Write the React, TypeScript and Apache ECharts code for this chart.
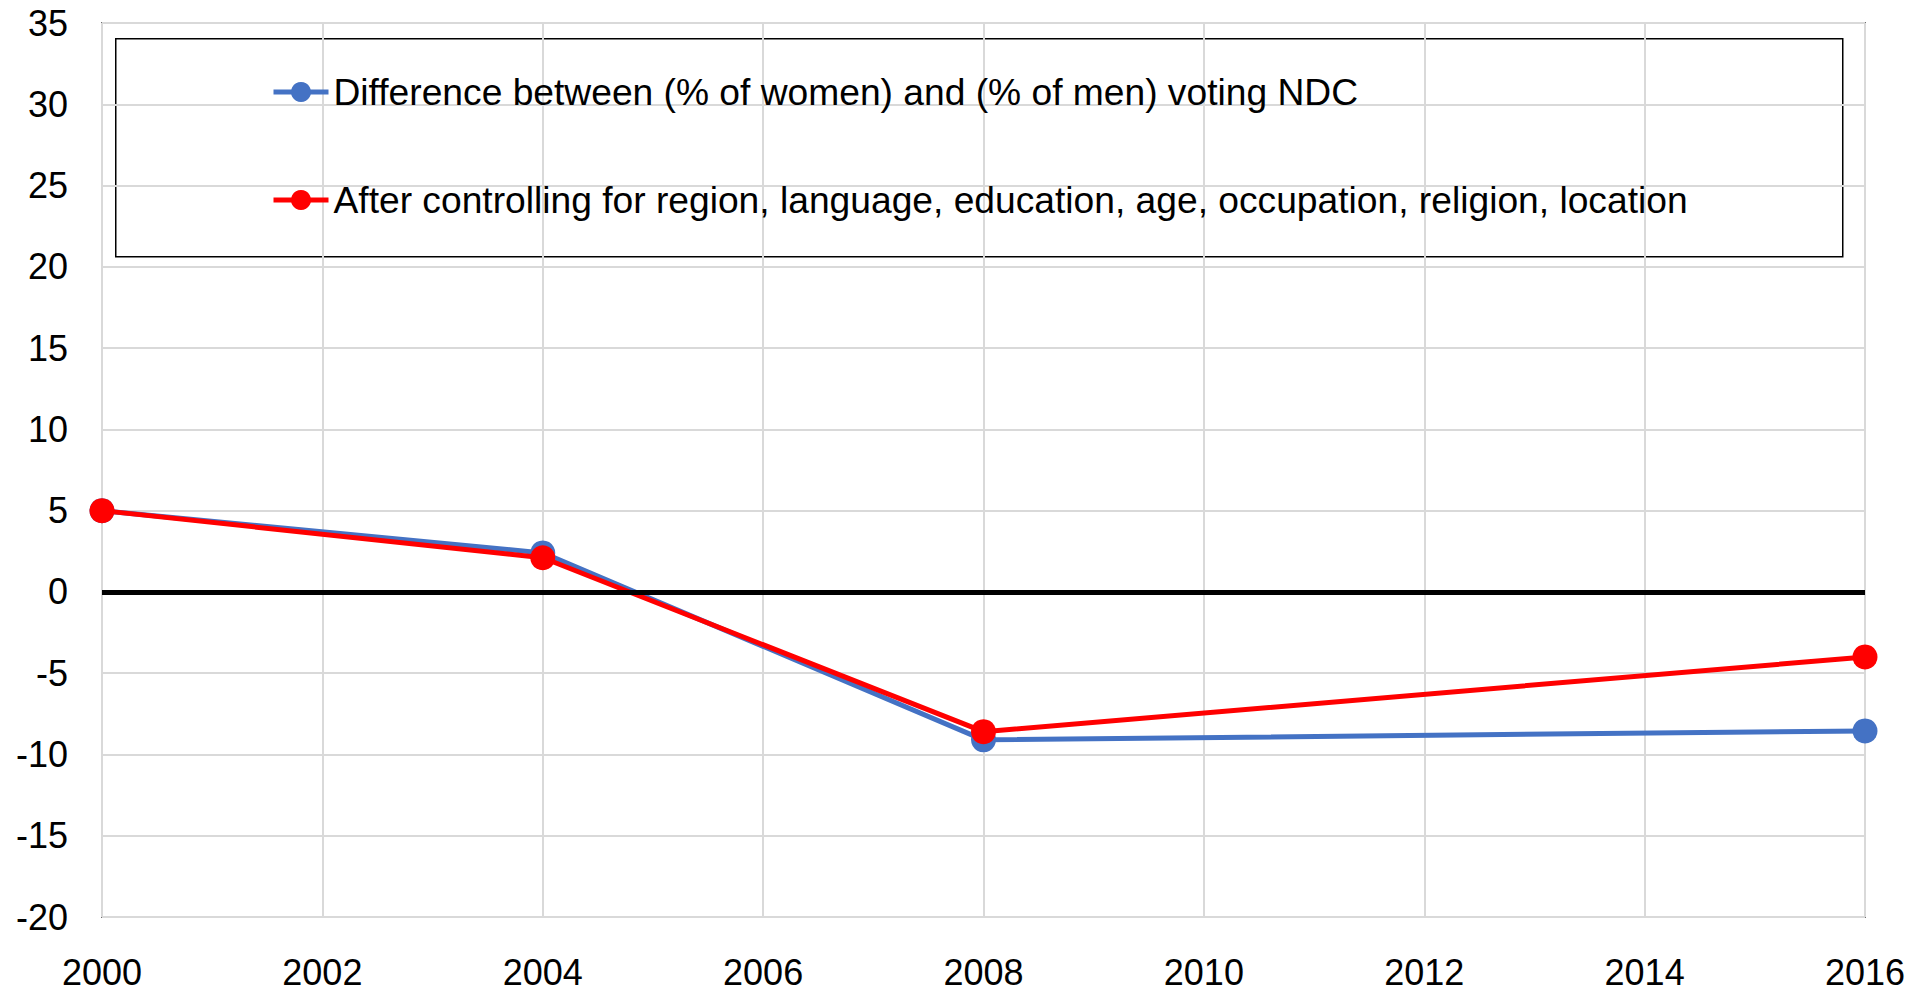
import React, { useEffect, useRef } from "react";
import * as echarts from "echarts";

const years = [2000, 2004, 2008, 2016];
const rawDiff = [5.0, 2.4, -9.1, -8.55];
const controlledDiff = [5.0, 2.1, -8.6, -4.0];
const seriesNames = [
  "Difference between (% of women) and (% of men) voting NDC",
  "After controlling for region, language, education, age, occupation, religion, location",
];
const xMin = 2000, xMax = 2016, xStep = 2;
const yMin = -20, yMax = 35, yStep = 5;

const FONT = "'Liberation Sans', Arial, sans-serif";

export default function App() {
  const ref = useRef<HTMLDivElement>(null);
  useEffect(() => {
    document.body.style.margin = "0";
    const chart = echarts.init(ref.current!, null, { renderer: "svg" });
    chart.setOption({
      animation: false,
      backgroundColor: "#ffffff",
      textStyle: { fontFamily: FONT },
      grid: {
        left: 102,
        top: 23,
        right: 63,
        bottom: 74,
        show: true,
        borderColor: "#000000",
        borderWidth: 1.5,
        backgroundColor: "transparent",
      },
      xAxis: {
        type: "value",
        min: xMin,
        max: xMax,
        interval: xStep,
        axisLine: { show: false },
        axisTick: { show: false },
        axisLabel: {
          fontSize: 36,
          color: "#000",
          margin: 37,
          fontFamily: FONT,
          formatter: (v: number) => String(v),
        },
        splitLine: { show: true, lineStyle: { color: "#d9d9d9", width: 2 } },
      },
      yAxis: {
        type: "value",
        min: yMin,
        max: yMax,
        interval: yStep,
        axisLine: { show: false },
        axisTick: { show: false },
        axisLabel: { fontSize: 36, color: "#000", margin: 34, fontFamily: FONT },
        splitLine: { show: true, lineStyle: { color: "#d9d9d9", width: 2 } },
      },
      legend: {
        orient: "vertical",
        left: 271,
        top: 72,
        itemGap: 68,
        itemWidth: 55,
        itemHeight: 25,
        padding: 0,
        lineStyle: { width: 5 },
        textStyle: { fontSize: 37.2, lineHeight: 40, color: "#000", fontFamily: FONT },
        data: seriesNames,
      },
      graphic: [
        {
          type: "rect",
          left: 115,
          top: 38,
          shape: { width: 1727, height: 218 },
          style: { fill: "#ffffff", stroke: "#000000", lineWidth: 1.5 },
          z: 0,
          silent: true,
        },
      ],
      series: [
        {
          name: "zero",
          type: "line",
          data: [],
          z: 1,
          markLine: {
            silent: true,
            symbol: "none",
            label: { show: false },
            lineStyle: { color: "#000000", width: 5, type: "solid" },
            data: [{ yAxis: 0 }],
          },
        },
        {
          name: seriesNames[0],
          type: "line",
          z: 3,
          data: years.map((y, i) => [y, rawDiff[i]]),
          symbol: "circle",
          symbolSize: 25,
          lineStyle: { color: "#4472C4", width: 5 },
          itemStyle: { color: "#4472C4" },
        },
        {
          name: seriesNames[1],
          type: "line",
          z: 4,
          data: years.map((y, i) => [y, controlledDiff[i]]),
          symbol: "circle",
          symbolSize: 25,
          lineStyle: { color: "#FF0000", width: 5 },
          itemStyle: { color: "#FF0000" },
        },
      ],
    });
    return () => chart.dispose();
  }, []);
  return <div ref={ref} style={{ width: 1928, height: 991 }} />;
}
